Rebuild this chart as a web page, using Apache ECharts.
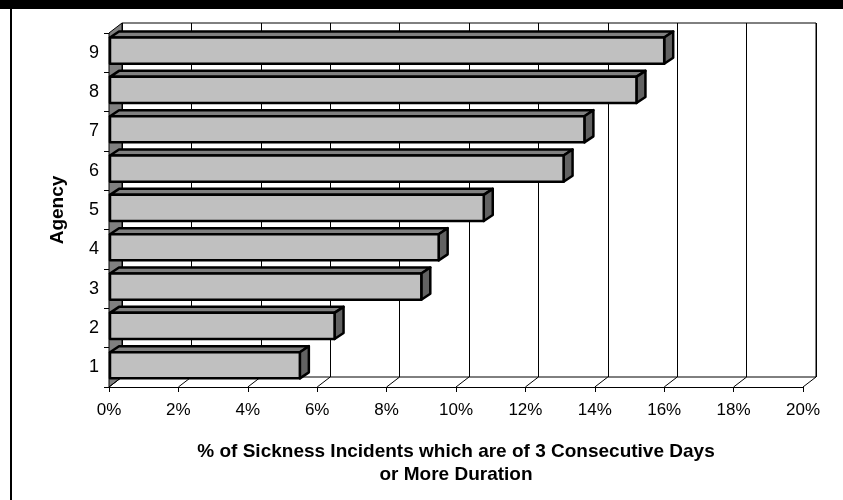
<!DOCTYPE html>
<html>
<head>
<meta charset="utf-8">
<script src="https://cdn.jsdelivr.net/npm/echarts@6/dist/echarts.min.js"></script>
<style>
  html, body { margin: 0; padding: 0; background: #fff; }
  #chart { width: 843px; height: 500px; }
</style>
</head>
<body>
<div id="chart"></div>
<script>
// Agencies and the share of sickness incidents lasting 3+ consecutive days (%)
const agencies = ['1', '2', '3', '4', '5', '6', '7', '8', '9'];
const longSpellShare = [5.5, 6.5, 9.0, 9.5, 10.8, 13.1, 13.7, 15.2, 16.0];
const axisMin = 0;
const axisMax = 20;
const axisStep = 2;

const FONT = '"Liberation Sans", Arial, sans-serif';
// Perspective offset between the front plane and the back wall (px)
const DEPTH_X = 13, DEPTH_Y = -10;
// Bar extrusion offset (px)
const BAR_DX = 9, BAR_DY = -6;

const chart = echarts.init(document.getElementById('chart'), null, { renderer: 'canvas' });

function renderFrame(params, api) {
  const cs = params.coordSys;
  const left = cs.x, top = cs.y, bottom = cs.y + cs.height;
  const children = [];
  // left side wall
  children.push({
    type: 'polygon',
    shape: { points: [[left, bottom], [left, top], [left + DEPTH_X, top + DEPTH_Y], [left + DEPTH_X, bottom + DEPTH_Y]] },
    style: { fill: '#808080', stroke: '#000', lineWidth: 1 }
  });
  // floor: depth lines at every tick
  for (let t = axisMin; t <= axisMax; t += axisStep) {
    const p = api.coord([t, 0]);
    children.push({
      type: 'line',
      shape: { x1: p[0], y1: bottom, x2: p[0] + DEPTH_X, y2: bottom + DEPTH_Y },
      style: { stroke: '#000', lineWidth: 1 }
    });
  }
  return { type: 'group', children };
}

function renderBar(params, api) {
  const v = api.value(0), c = api.value(1);
  const p0 = api.coord([0, c]);
  const p1 = api.coord([v, c]);
  const band = api.size([0, 1])[1];
  const yTop = p0[1] - band * 0.385;
  const yBot = p0[1] + band * 0.28;
  const x0 = p0[0] + 1, x1 = p1[0];
  const stroke = { stroke: '#000', lineWidth: 2.5, lineJoin: 'round' };
  return {
    type: 'group',
    children: [
      {
        type: 'polygon',
        shape: { points: [[x0, yTop], [x0 + BAR_DX, yTop + BAR_DY], [x1 + BAR_DX, yTop + BAR_DY], [x1, yTop]] },
        style: Object.assign({ fill: '#808080' }, stroke)
      },
      {
        type: 'polygon',
        shape: { points: [[x1, yTop], [x1 + BAR_DX, yTop + BAR_DY], [x1 + BAR_DX, yBot + BAR_DY], [x1, yBot]] },
        style: Object.assign({ fill: '#626262' }, stroke)
      },
      {
        type: 'rect',
        shape: { x: x0, y: yTop, width: x1 - x0, height: yBot - yTop },
        style: Object.assign({ fill: '#c0c0c0' }, stroke)
      }
    ]
  };
}

const option = {
  animation: false,
  backgroundColor: '#fff',
  graphic: [
    { type: 'rect', left: 0, top: 0, shape: { width: 843, height: 9 }, style: { fill: '#000' }, z: 100 },
    { type: 'rect', left: 10, top: 0, shape: { width: 2, height: 500 }, style: { fill: '#000' }, z: 100 }
  ],
  grid: [
    { left: 109, right: 40, top: 33, bottom: 113 },
    { left: 122, right: 27, top: 23, bottom: 123, show: true, borderColor: '#000', borderWidth: 1, backgroundColor: '#fff', z: 0 }
  ],
  xAxis: [
    {
      type: 'value', gridIndex: 0, min: axisMin, max: axisMax, interval: axisStep,
      axisLine: { show: true, lineStyle: { color: '#000', width: 1 } },
      axisTick: { show: true, length: 5, lineStyle: { color: '#000' } },
      splitLine: { show: false },
      axisLabel: { formatter: '{value}%', color: '#000', fontFamily: FONT, fontSize: 17, margin: 15 },
      name: '% of Sickness Incidents which are of 3 Consecutive Days\nor More Duration',
      nameLocation: 'middle',
      nameGap: 53,
      nameTextStyle: { color: '#000', fontFamily: FONT, fontSize: 19, fontWeight: 'bold', lineHeight: 23 }
    },
    {
      type: 'value', gridIndex: 1, min: axisMin, max: axisMax, interval: axisStep,
      axisLine: { show: false }, axisTick: { show: false }, axisLabel: { show: false },
      splitLine: { show: true, lineStyle: { color: '#000', width: 1 } }
    }
  ],
  yAxis: [
    {
      type: 'category', gridIndex: 0, data: agencies,
      axisLine: { show: true, lineStyle: { color: '#000', width: 1 } },
      axisTick: { show: true, length: 5, lineStyle: { color: '#000' } },
      axisLabel: { color: '#000', fontFamily: FONT, fontSize: 18, margin: 10 },
      name: 'Agency',
      nameLocation: 'middle',
      nameGap: 42,
      nameRotate: 90,
      nameTextStyle: { color: '#000', fontFamily: FONT, fontSize: 19, fontWeight: 'bold' }
    },
    {
      type: 'category', gridIndex: 1, data: agencies, show: false
    }
  ],
  series: [
    {
      type: 'custom', name: 'frame', xAxisIndex: 0, yAxisIndex: 0,
      data: [[0, 0]], renderItem: renderFrame, z: 1, silent: true
    },
    {
      type: 'custom', name: 'share', xAxisIndex: 0, yAxisIndex: 0,
      data: longSpellShare.map((v, i) => [v, i]),
      encode: { x: 0, y: 1 },
      renderItem: renderBar, z: 3
    }
  ]
};

chart.setOption(option);
</script>
</body>
</html>
